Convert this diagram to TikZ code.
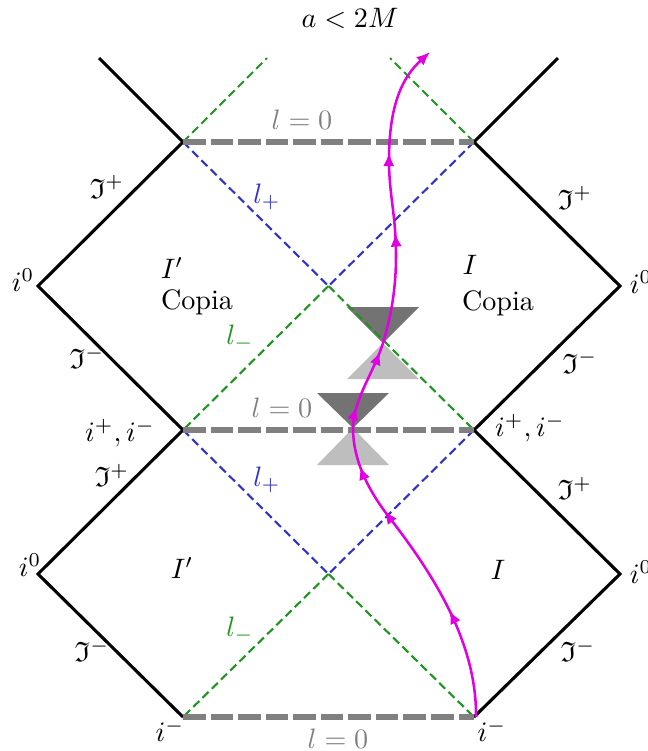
\documentclass[tikz,border=0pt]{standalone}
\usepackage{amssymb}
\usetikzlibrary{decorations.markings,arrows.meta}
\definecolor{lblue}{RGB}{50,50,200}
\definecolor{lgreen}{RGB}{30,150,30}
\definecolor{wline}{RGB}{225,0,225}
\definecolor{conedark}{RGB}{115,115,115}
\definecolor{conelight}{RGB}{190,190,190}
\tikzset{
  bnd/.style={line width=1.1pt, black},
  lzero/.style={line width=2pt, gray, dash pattern=on 8pt off 1.8pt},
  lplus/.style={line width=0.75pt, lblue, dash pattern=on 3pt off 1.6pt},
  lminus/.style={line width=0.75pt, lgreen, dash pattern=on 3pt off 1.6pt},
  lbl/.style={inner sep=0pt},
  darkcone/.style={fill=conedark},
  lightcone/.style={fill=conelight},
  world/.style={line width=0.9pt, wline, >={Latex[length=4.8pt,width=4pt]}},
}
\begin{document}
\begin{tikzpicture}[x=0.0125cm, y=-0.0125cm]
\useasboundingbox (0,0) rectangle (648,751);
% key points
\coordinate (A) at (183,142);
\coordinate (B) at (474,142);
\coordinate (C) at (183,430);
\coordinate (D) at (474,430);
\coordinate (E) at (183,717);
\coordinate (F) at (474,717);
\coordinate (L1) at (38,286);
\coordinate (R1) at (620,286);
\coordinate (L2) at (38,574);
\coordinate (R2) at (620,574);
\coordinate (X1) at (328.5,286);
\coordinate (X2) at (328.5,574);
\coordinate (TA) at (99,58);
\coordinate (TB) at (558,58);
\coordinate (GA) at (267,58);
\coordinate (GB) at (390,58);
% world line points
\coordinate (W0) at (476,717);
\coordinate (W1) at (389,517);
\coordinate (W2) at (353,428);
\coordinate (W3) at (383,343);
\coordinate (W4) at (396,255);
\coordinate (W5) at (389,160);
\coordinate (W6) at (430,52);
% cones
\fill[darkcone] (347,307) -- (419,307) -- (W3) -- cycle;
\fill[lightcone] (W3) -- (419,379) -- (347,379) -- cycle;
\fill[darkcone] (317,393) -- (389,393) -- (W2) -- cycle;
\fill[lightcone] (W2) -- (389,465) -- (317,465) -- cycle;
% horizons
\draw[lminus] (A) -- (GA);
\draw[lminus] (B) -- (GB);
\draw[lplus] (A) -- (X1);
\draw[lplus] (B) -- (X1);
\draw[lminus] (X1) -- (C);
\draw[lminus] (X1) -- (D);
\draw[lplus] (C) -- (X2);
\draw[lplus] (D) -- (X2);
\draw[lminus] (X2) -- (E);
\draw[lminus] (X2) -- (F);
% boundaries
\draw[bnd] (TA) -- (A) -- (L1) -- (C) -- (L2) -- (E);
\draw[bnd] (TB) -- (B) -- (R1) -- (D) -- (R2) -- (F);
% singularities
\draw[lzero] (A) -- (B);
\draw[lzero] (C) -- (D);
\draw[lzero] (E) -- (F);
% world line
\draw[world, ->, postaction={decorate},
  decoration={markings,
    mark=at position 0.155 with {\arrow{>}},
    mark=at position 0.322 with {\arrow{>}},
    mark=at position 0.393 with {\arrow{>}},
    mark=at position 0.478 with {\arrow{>}},
    mark=at position 0.562 with {\arrow{>}},
    mark=at position 0.73 with {\arrow{>}},
    mark=at position 0.843 with {\arrow{>}}}]
  (W0) .. controls (477,640) and (430,570) .. (W1)
       .. controls (368,490) and (353,460) .. (W2)
       .. controls (353,400) and (375,370) .. (W3)
       .. controls (391,316) and (396,290) .. (W4)
       .. controls (396,215) and (389,195) .. (W5)
       .. controls (389,100) and (405,75) .. (W6);
% labels
\node[lbl] (title) at (350,18) {$a<2M$};
\node[lbl, text=gray] (lz1) at (302,120) {$l=0$};
\node[lbl, text=gray] (lz2) at (282,408) {$l=0$};
\node[lbl, text=gray] (lz3) at (338,739) {$l=0$};
\node[lbl, text=lblue] (lp1) at (267,197) {$l_+$};
\node[lbl, text=lblue] (lp2) at (267,480) {$l_+$};
\node[lbl, text=lgreen] (lm1) at (240,338) {$l_-$};
\node[lbl, text=lgreen] (lm2) at (240,630) {$l_-$};
\node[lbl] (reg1) at (172,268) {$I'$};
\node[lbl] (cop1) at (197,302) {Copia};
\node[lbl] (reg2) at (470,265) {$I$};
\node[lbl] (cop2) at (498,303) {Copia};
\node[lbl] (reg3) at (182,568) {$I'$};
\node[lbl] (reg4) at (498,570) {$I$};
\node[lbl] (io1) at (23,280) {$i^0$};
\node[lbl] (io2) at (30,565) {$i^0$};
\node[lbl] (io3) at (641,282) {$i^0$};
\node[lbl] (io4) at (641,572) {$i^0$};
\node[lbl] (sp1) at (107,187) {$\mathfrak{I}^+$};
\node[lbl] (sp2) at (575,198) {$\mathfrak{I}^+$};
\node[lbl] (sp3) at (112,475) {$\mathfrak{I}^+$};
\node[lbl] (sp4) at (575,488) {$\mathfrak{I}^+$};
\node[lbl] (sm1) at (87,357) {$\mathfrak{I}^-$};
\node[lbl] (sm2) at (580,362) {$\mathfrak{I}^-$};
\node[lbl] (sm3) at (92,650) {$\mathfrak{I}^-$};
\node[lbl] (sm4) at (578,650) {$\mathfrak{I}^-$};
\node[lbl] (ipm1) at (120,433) {$i^+,i^-$};
\node[lbl] (ipm2) at (530,428) {$i^+,i^-$};
\node[lbl] (im1) at (170,730) {$i^-$};
\node[lbl] (im2) at (492,730) {$i^-$};
\end{tikzpicture}
\end{document}
